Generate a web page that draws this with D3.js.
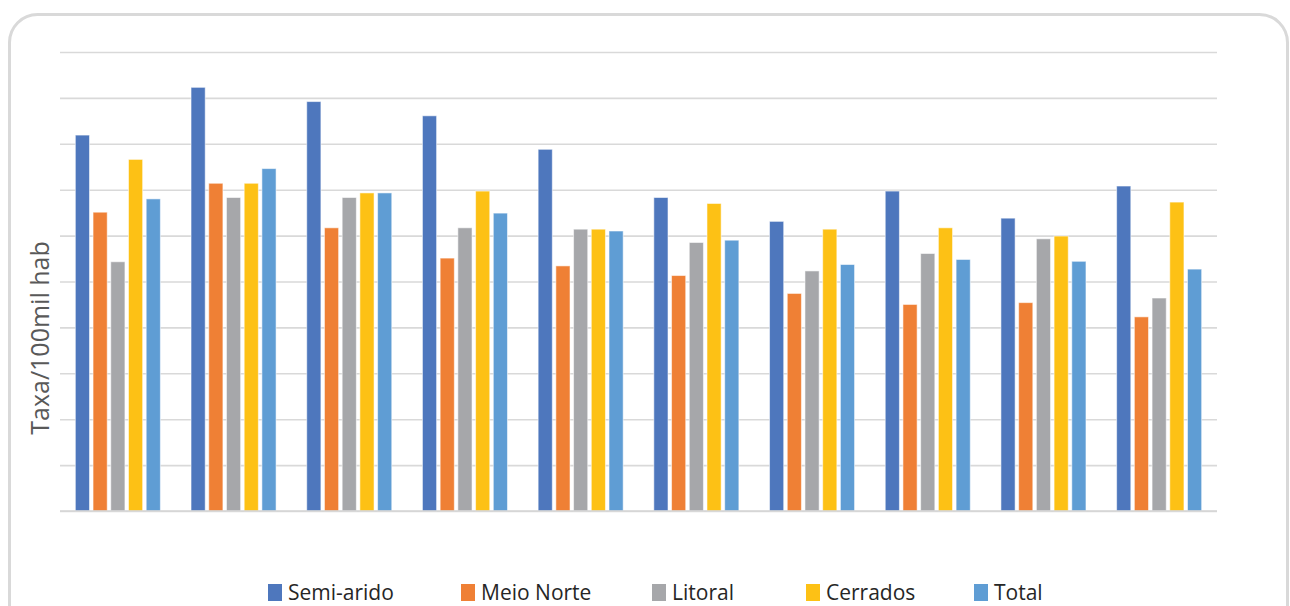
<!DOCTYPE html>
<html>
<head>
<meta charset="utf-8">
<script src="https://cdn.jsdelivr.net/npm/d3@7"></script>
<style>
  html, body { margin: 0; padding: 0; background: #fff; }
  svg { display: block; }
</style>
</head>
<body>
<svg id="chart" width="1290" height="606"></svg>
<script>
// Rate per 100 thousand inhabitants, by region, for ten periods
const categories = ["1", "2", "3", "4", "5", "6", "7", "8", "9", "10"];
const seriesNames = ["Semi-arido", "Meio Norte", "Litoral", "Cerrados", "Total"];
const semiArido = [81.9, 92.3, 89.2, 86.1, 78.8, 68.3, 63.1, 69.7, 63.8, 70.8];
const meioNorte = [65.1, 71.4, 61.7, 55.1, 53.4, 51.3, 47.4, 45.0, 45.4, 42.3];
const litoral   = [54.3, 68.3, 68.3, 61.7, 61.4, 58.5, 52.3, 56.1, 59.3, 46.4];
const cerrados  = [76.6, 71.4, 69.3, 69.7, 61.4, 67.0, 61.4, 61.7, 59.9, 67.3];
const total     = [68.0, 74.6, 69.3, 64.9, 61.0, 59.0, 53.7, 54.8, 54.4, 52.7];
const yTicks = [0, 10, 20, 30, 40, 50, 60, 70, 80, 90, 100];
const yTitle = "Taxa/100mil hab";

const seriesValues = [semiArido, meioNorte, litoral, cerrados, total];
const colors = ["#4e77bd", "#ef8035", "#a6a7aa", "#fdc115", "#5f9dd4"];

const svg = d3.select("#chart");

// rounded card frame
svg.append("rect")
  .attr("x", 9.5).attr("y", 14.5)
  .attr("width", 1278).attr("height", 700)
  .attr("rx", 28).attr("ry", 28)
  .attr("fill", "none")
  .attr("stroke", "#d9d9d9")
  .attr("stroke-width", 3);

const plot = { left: 60, right: 1217, top: 52, bottom: 511 };

const x = d3.scaleBand()
  .domain(categories)
  .range([plot.left, plot.right])
  .paddingInner(0.265)
  .paddingOuter(0.1325);

const xSub = d3.scaleBand()
  .domain(seriesNames)
  .range([0, x.bandwidth()])
  .paddingInner(0.2);

const y = d3.scaleLinear()
  .domain([0, 100])
  .range([plot.bottom, plot.top]);

// horizontal gridlines
const yAxis = d3.axisLeft(y).tickValues(yTicks).tickSize(-(plot.right - plot.left)).tickFormat("");
const gy = svg.append("g")
  .attr("transform", `translate(${plot.left},0)`)
  .call(yAxis);
gy.select(".domain").remove();
gy.selectAll(".tick line")
  .attr("stroke", "#d9d9d9")
  .attr("stroke-width", 1.6);

// bars
const groups = svg.append("g").selectAll("g")
  .data(categories)
  .join("g")
  .attr("transform", d => `translate(${x(d)},0)`);

groups.selectAll("rect")
  .data((d, i) => seriesNames.map((s, j) => ({ s, v: seriesValues[j][i], c: colors[j] })))
  .join("rect")
  .attr("x", d => xSub(d.s))
  .attr("width", xSub.bandwidth())
  .attr("y", d => y(d.v))
  .attr("height", d => y(0) - y(d.v))
  .attr("fill", d => d.c)
  .attr("stroke", "#ffffff")
  .attr("stroke-opacity", 0.55)
  .attr("stroke-width", 1);

// baseline
svg.append("line")
  .attr("x1", plot.left).attr("x2", plot.right)
  .attr("y1", y(0)).attr("y2", y(0))
  .attr("stroke", "#d4d4d4")
  .attr("stroke-width", 1.6);

// y axis title
svg.append("text")
  .attr("transform", "translate(49,338) rotate(-90)")
  .attr("text-anchor", "middle")
  .attr("font-family", "'Open Sans', sans-serif")
  .attr("font-size", 25)
  .attr("fill", "#595959")
  .text(yTitle);

// legend
const legendX = [268, 461, 652, 806, 974];
const legend = svg.append("g");
seriesNames.forEach((s, j) => {
  const g = legend.append("g").attr("transform", `translate(${legendX[j]},0)`);
  g.append("rect")
    .attr("x", 0).attr("y", 584)
    .attr("width", 14).attr("height", 17)
    .attr("fill", colors[j]);
  g.append("text")
    .attr("x", 20).attr("y", 600)
    .attr("font-family", "'Open Sans', sans-serif")
    .attr("font-size", 21)
    .attr("fill", "#262626")
    .text(s);
});
</script>
</body>
</html>
